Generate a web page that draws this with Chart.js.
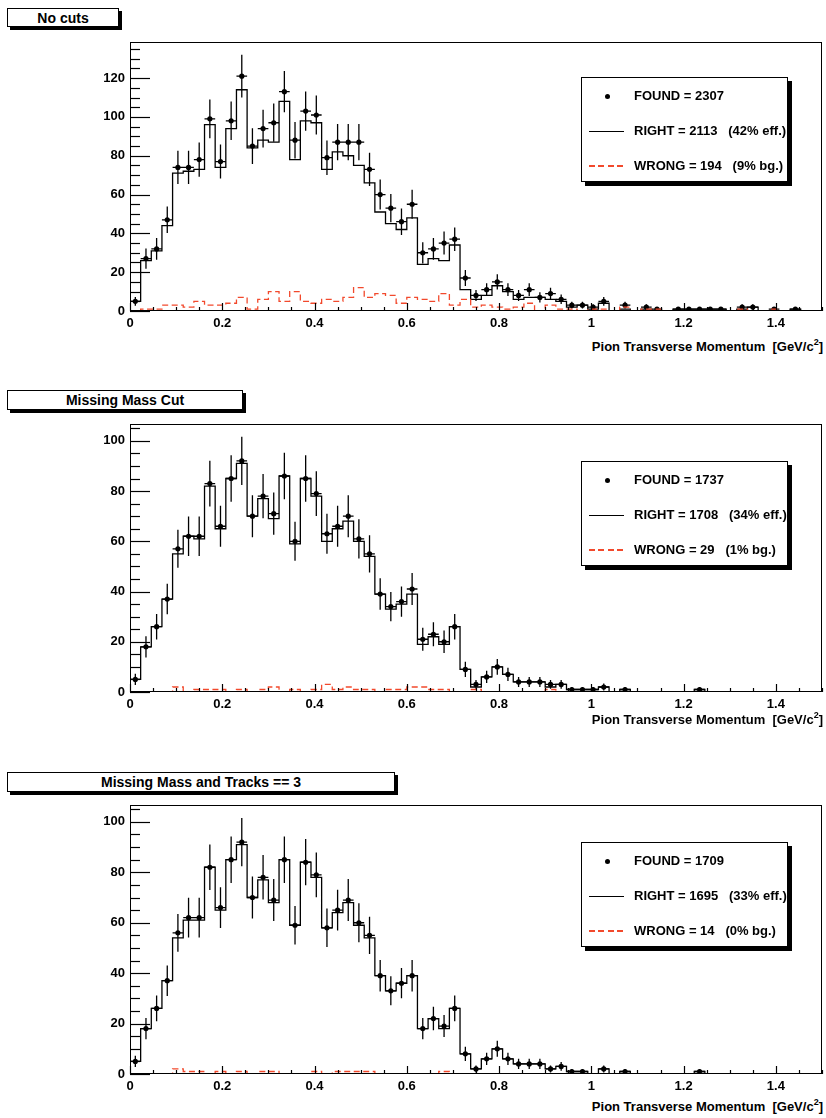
<!DOCTYPE html>
<html>
<head>
<meta charset="utf-8">
<script src="https://cdn.jsdelivr.net/npm/chart.js@4.4.1/dist/chart.umd.min.js"></script>
<style>
  html, body { margin:0; padding:0; background:#fff; }
  body { width:826px; height:1118px; position:relative; overflow:hidden; font-family:"Liberation Sans", Arial, Helvetica, sans-serif; font-weight:bold; color:#000; }
  .tbox { position:absolute; box-sizing:border-box; border:1px solid #000; background:#fff; box-shadow:3px 3px 0 #000; font-size:14px; text-align:center; line-height:18px; }
  .pcan { position:absolute; left:0; width:826px; }
  .leg { position:absolute; left:581px; width:207px; height:105px; box-sizing:border-box; border:1px solid #000; background:#fff; box-shadow:4px 4px 0 #000; }
  .row { position:absolute; left:0; width:100%; height:0; }
  .dot { position:absolute; left:23px; top:-2.5px; width:5px; height:5px; border-radius:50%; background:#000; }
  .sl { position:absolute; left:7px; width:35px; top:-0.5px; height:1px; background:#000; }
  .dl { position:absolute; left:7px; width:35px; top:-0.75px; height:1.5px; background:repeating-linear-gradient(to right, #f2492c 0 6px, transparent 6px 9.5px); }
  .txt { position:absolute; left:52px; top:-8px; line-height:16px; font-size:13px; white-space:pre; }
  .xt { position:absolute; right:3px; font-size:13px; line-height:16px; white-space:pre; }
  .xt sup { font-size:9px; vertical-align:6px; line-height:0; }
</style>
</head>
<body>

<div class="tbox" style="left:7px;top:8px;width:112px;height:19px;">No cuts</div>
<div class="pcan" style="top:34px;height:299px;"><canvas id="c0" width="826" height="299"></canvas></div>
<div class="leg" style="top:77px;">
  <div class="row" style="top:18px;"><span class="dot"></span><span class="txt">FOUND = 2307</span></div>
  <div class="row" style="top:53px;"><span class="sl"></span><span class="txt">RIGHT = 2113   (42% eff.)</span></div>
  <div class="row" style="top:88px;"><span class="dl"></span><span class="txt">WRONG = 194   (9% bg.)</span></div>
</div>
<div class="xt" style="top:339px;">Pion Transverse Momentum  [GeV/c<sup>2</sup>]</div>

<div class="tbox" style="left:7px;top:390px;width:236px;height:20px;">Missing Mass Cut</div>
<div class="pcan" style="top:416px;height:298px;"><canvas id="c1" width="826" height="298"></canvas></div>
<div class="leg" style="top:461px;">
  <div class="row" style="top:18px;"><span class="dot"></span><span class="txt">FOUND = 1737</span></div>
  <div class="row" style="top:53px;"><span class="sl"></span><span class="txt">RIGHT = 1708   (34% eff.)</span></div>
  <div class="row" style="top:88px;"><span class="dl"></span><span class="txt">WRONG = 29   (1% bg.)</span></div>
</div>
<div class="xt" style="top:712px;">Pion Transverse Momentum  [GeV/c<sup>2</sup>]</div>

<div class="tbox" style="left:7px;top:772px;width:388px;height:20px;">Missing Mass and Tracks == 3</div>
<div class="pcan" style="top:797px;height:299px;"><canvas id="c2" width="826" height="299"></canvas></div>
<div class="leg" style="top:842px;">
  <div class="row" style="top:18px;"><span class="dot"></span><span class="txt">FOUND = 1709</span></div>
  <div class="row" style="top:53px;"><span class="sl"></span><span class="txt">RIGHT = 1695   (33% eff.)</span></div>
  <div class="row" style="top:88px;"><span class="dl"></span><span class="txt">WRONG = 14   (0% bg.)</span></div>
</div>
<div class="xt" style="top:1099px;">Pion Transverse Momentum  [GeV/c<sup>2</sup>]</div>

<script>
// ---- binning (65 bins from 0 to 1.5 GeV) ----
const xRange = [0, 1.5];
const xTickLabels = [0, 0.2, 0.4, 0.6, 0.8, 1, 1.2, 1.4];
const yTicksA = [0, 20, 40, 60, 80, 100, 120];
const yTicksB = [0, 20, 40, 60, 80, 100];
const yMaxA = 138.6;
const yMaxB = 106.7;
const yMaxC = 106.7;

// ---- Panel A: No cuts ----
const foundA = [5,27,32,47,74,74,78,99,77,98,121,85,94,97,113,88,103,101,79,87,87,87,73,60,53,46,55,30,32,35,37,17,8,11,15,11,8,11,7,9,6,3,3,2,5,0,3,0,2,1,0,1,1,1,1,1,0,2,2,0,1,0,1,0,0];
const rightA = [5,26,31,44,71,72,73,96,74,94,114,84,88,87,108,78,98,97,73,82,80,75,66,51,45,42,48,24,27,26,34,11,6,8,13,10,6,7,7,6,5,2,3,1,4,0,1,0,1,0,0,1,1,1,1,1,0,1,2,0,0,0,1,0,0];
const wrongA = [0,1,1,3,3,2,5,3,3,4,7,1,6,10,5,10,5,4,6,5,7,12,7,9,8,4,7,6,5,9,3,6,2,3,2,1,2,4,0,3,1,1,0,1,1,0,2,0,1,1,0,0,0,0,0,0,0,1,0,0,1,0,0,0,0];

// ---- Panel B: Missing Mass Cut ----
const foundB = [5,18,26,37,57,62,62,83,66,85,92,70,78,71,86,60,85,79,63,66,70,61,55,39,34,36,41,21,23,20,26,9,3,6,10,7,4,4,4,3,3,1,1,1,2,0,1,0,0,0,0,0,0,1,0,0,0,0,0,0,0,0,0,0,0];
const rightB = [5,18,26,37,55,62,61,82,65,85,91,70,77,69,86,59,85,78,60,65,68,60,54,39,33,35,39,19,22,19,26,9,2,6,10,7,4,4,4,2,3,1,1,1,2,0,1,0,0,0,0,0,0,1,0,0,0,0,0,0,0,0,0,0,0];
const wrongB = [0,0,0,0,2,0,1,1,1,0,1,0,1,2,0,1,0,1,3,1,2,1,1,0,1,1,2,2,1,1,0,0,1,0,0,0,0,0,0,1,0,0,0,0,0,0,0,0,0,0,0,0,0,0,0,0,0,0,0,0,0,0,0,0,0];

// ---- Panel C: Missing Mass and Tracks == 3 ----
const foundC = [5,18,26,37,56,62,62,82,66,85,92,70,78,69,85,59,84,79,58,65,69,60,55,39,33,36,39,18,22,19,26,8,2,6,10,6,4,4,4,2,3,1,1,0,2,0,1,0,0,0,0,0,0,1,0,0,0,0,0,0,0,0,0,0,0];
const rightC = [5,18,26,37,54,61,61,82,65,85,91,70,77,68,85,59,84,78,58,64,68,59,54,39,33,36,39,18,22,18,26,8,2,6,10,6,4,4,4,2,3,1,1,0,2,0,1,0,0,0,0,0,0,1,0,0,0,0,0,0,0,0,0,0,0];
const wrongC = [0,0,0,0,2,1,1,0,1,0,1,0,1,1,0,0,0,1,0,1,1,1,1,0,0,0,0,0,0,1,0,0,0,0,0,0,0,0,0,0,0,0,0,0,0,0,0,0,0,0,0,0,0,0,0,0,0,0,0,0,0,0,0,0,0];

const RED = '#f2492c';

function histLine(values) {
  const w = (xRange[1] - xRange[0]) / values.length;
  const pts = values.map((v, k) => ({ x: xRange[0] + k * w, y: v }));
  pts.push({ x: xRange[1], y: values[values.length - 1] });
  return pts;
}
function markers(values) {
  const w = (xRange[1] - xRange[0]) / values.length;
  const pts = [];
  values.forEach((v, k) => { if (v > 0) pts.push({ x: xRange[0] + (k + 0.5) * w, y: v }); });
  return pts;
}
function errorBars(values) {
  const w = (xRange[1] - xRange[0]) / values.length;
  const pts = [];
  values.forEach((v, k) => {
    if (v <= 0) return;
    const c = xRange[0] + (k + 0.5) * w, e = Math.sqrt(v);
    pts.push({ x: c, y: v - e }, { x: c, y: v + e }, { x: c, y: null },
             { x: c - w / 2, y: v }, { x: c + w / 2, y: v }, { x: c, y: null });
  });
  return pts;
}

const rootFrame = {
  id: 'rootFrame',
  afterDatasetsDraw(chart) {
    const { ctx, chartArea: a, scales: { x, y } } = chart;
    ctx.save();
    ctx.strokeStyle = '#000';
    ctx.lineWidth = 1;
    ctx.strokeRect(a.left + 0.5, a.top + 0.5, a.right - a.left - 1, a.bottom - a.top - 1);
    ctx.lineWidth = 1.2;
    // y ticks (major 20, minor 5), drawn inside the frame
    for (let i = 0; i * 5 <= y.max; i++) {
      const py = Math.round(y.getPixelForValue(i * 5)) + 0.5;
      const len = (i % 4 === 0) ? 20 : 10;
      ctx.beginPath(); ctx.moveTo(a.left, py); ctx.lineTo(a.left + len, py); ctx.stroke();
    }
    // x ticks (major 0.2, minor 0.05)
    for (let i = 0; i * 0.05 <= x.max + 1e-9; i++) {
      const px = Math.round(x.getPixelForValue(i * 0.05)) + 0.5;
      const len = (i % 4 === 0) ? 8 : 4;
      ctx.beginPath(); ctx.moveTo(px, a.bottom); ctx.lineTo(px, a.bottom - len); ctx.stroke();
    }
    ctx.restore();
  }
};

function noPad(s) { s.paddingTop = 0; s.paddingBottom = 0; s.paddingLeft = 0; s.paddingRight = 0; }

function makeChart(id, found, right, wrong, yTicks, yMax) {
  new Chart(document.getElementById(id), {
    type: 'line',
    data: {
      datasets: [
        { label: 'WRONG', data: histLine(wrong), stepped: true, borderColor: RED, borderWidth: 1.3,
          borderDash: [6, 3.5], pointRadius: 0, fill: false, order: 0 },
        { label: 'FOUND', data: markers(found), showLine: false, pointRadius: 2.6, pointStyle: 'circle',
          pointBackgroundColor: '#000', pointBorderColor: '#000', pointBorderWidth: 0, order: 1 },
        { label: 'FOUND errors', data: errorBars(found), borderColor: '#000', borderWidth: 1.3,
          pointRadius: 0, spanGaps: false, fill: false, order: 2 },
        { label: 'RIGHT', data: histLine(right), stepped: true, borderColor: '#000', borderWidth: 1.3,
          pointRadius: 0, fill: false, order: 3 }
      ]
    },
    options: {
      responsive: false,
      animation: false,
      events: [],
      layout: { padding: { top: 8, right: 4, left: 0, bottom: 0 } },
      plugins: { legend: { display: false }, tooltip: { enabled: false }, title: { display: false } },
      scales: {
        x: {
          type: 'linear', min: xRange[0], max: xRange[1],
          grid: { display: false, drawTicks: false },
          border: { display: false },
          afterBuildTicks: s => { s.ticks = xTickLabels.map(v => ({ value: v })); },
          afterFit: s => { s.height = 22; noPad(s); },
          ticks: { color: '#000', padding: 5, maxRotation: 0, autoSkip: false,
                   font: { family: 'Liberation Sans', weight: 'bold', size: 13 },
                   callback: v => String(v) }
        },
        y: {
          type: 'linear', min: 0, max: yMax,
          grid: { display: false, drawTicks: false },
          border: { display: false },
          afterBuildTicks: s => { s.ticks = yTicks.map(v => ({ value: v })); },
          afterFit: s => { s.width = 130; noPad(s); },
          ticks: { color: '#000', padding: 5, autoSkip: false,
                   font: { family: 'Liberation Sans', weight: 'bold', size: 13 },
                   callback: v => String(v) }
        }
      }
    },
    plugins: [rootFrame]
  });
}

makeChart('c0', foundA, rightA, wrongA, yTicksA, yMaxA);
makeChart('c1', foundB, rightB, wrongB, yTicksB, yMaxB);
makeChart('c2', foundC, rightC, wrongC, yTicksB, yMaxC);
</script>
</body>
</html>
